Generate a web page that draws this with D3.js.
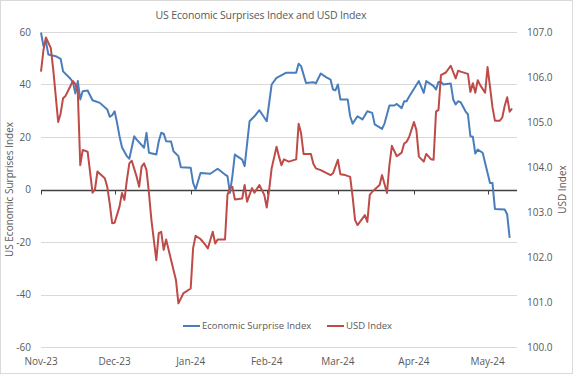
<!DOCTYPE html>
<html>
<head>
<meta charset="utf-8">
<script src="https://cdn.jsdelivr.net/npm/d3@7"></script>
<style>
  body { margin: 0; background: #fff; }
  text { font-family: "Open Sans", sans-serif; }
</style>
</head>
<body>
<div id="chart"></div>
<script>
// values
const esiPoints = [
  ["2023-11-01",59.8],["2023-11-02",54.6],["2023-11-03",56.5],["2023-11-04",51.4],["2023-11-07",50.8],
  ["2023-11-09",49.8],["2023-11-10",45.0],["2023-11-13",42.2],["2023-11-14",40.9],["2023-11-15",36.6],
  ["2023-11-16",41.3],["2023-11-17",34.3],["2023-11-18",37.4],["2023-11-20",37.7],["2023-11-22",34.0],
  ["2023-11-25",33.0],["2023-11-28",30.5],["2023-11-29",27.7],["2023-11-30",28.3],["2023-12-01",29.8],
  ["2023-12-02",25.4],["2023-12-03",20.3],["2023-12-04",16.1],["2023-12-06",12.7],["2023-12-07",11.7],
  ["2023-12-09",20.3],["2023-12-10",19.0],["2023-12-13",15.9],["2023-12-14",21.6],["2023-12-15",14.0],
  ["2023-12-18",13.3],["2023-12-19",18.4],["2023-12-20",21.6],["2023-12-21",21.3],["2023-12-22",18.4],
  ["2023-12-24",18.3],["2023-12-25",14.6],["2023-12-27",12.7],["2023-12-28",8.5],["2024-01-01",8.3],
  ["2024-01-02",2.5],["2024-01-03",0.0],["2024-01-05",6.3],["2024-01-09",6.0],["2024-01-12",7.9],
  ["2024-01-15",5.7],["2024-01-16",5.1],["2024-01-17",-1.3],["2024-01-18",5.1],["2024-01-19",13.3],
  ["2024-01-22",11.4],["2024-01-23",8.9],["2024-01-25",26.0],["2024-01-27",27.9],["2024-01-29",30.2],
  ["2024-02-01",26.0],["2024-02-03",40.0],["2024-02-05",42.5],["2024-02-09",44.5],["2024-02-13",44.5],
  ["2024-02-14",47.9],["2024-02-15",47.0],["2024-02-17",40.6],["2024-02-20",40.9],["2024-02-21",40.4],
  ["2024-02-23",44.2],["2024-02-25",42.9],["2024-02-27",41.9],["2024-02-28",38.1],["2024-02-29",37.8],
  ["2024-03-01",40.0],["2024-03-02",34.3],["2024-03-05",34.3],["2024-03-06",27.9],["2024-03-07",25.1],
  ["2024-03-09",27.9],["2024-03-11",26.7],["2024-03-13",29.8],["2024-03-15",29.2],["2024-03-16",24.8],
  ["2024-03-19",23.1],["2024-03-20",25.1],["2024-03-22",32.0],["2024-03-24",32.0],["2024-03-25",32.6],
  ["2024-03-27",31.0],["2024-03-28",33.6],["2024-03-29",33.6],["2024-03-30",35.3],["2024-04-03",41.3],
  ["2024-04-05",36.8],["2024-04-06",41.3],["2024-04-09",39.4],["2024-04-10",38.1],["2024-04-11",41.0],
  ["2024-04-12",41.0],["2024-04-13",40.0],["2024-04-16",40.4],["2024-04-17",34.3],["2024-04-18",32.4],
  ["2024-04-19",33.6],["2024-04-20",33.3],["2024-04-22",29.8],["2024-04-23",28.6],["2024-04-24",20.3],
  ["2024-04-25",20.1],["2024-04-26",13.7],["2024-04-27",15.2],["2024-04-29",14.0],["2024-05-02",2.5],
  ["2024-05-03",2.5],["2024-05-04",-7.4],["2024-05-08",-7.6],["2024-05-09",-9.5],["2024-05-10",-18.4]
]

const usdPoints = [
  ["2023-11-01",106.12],["2023-11-02",106.6],["2023-11-03",106.88],["2023-11-05",106.64],["2023-11-06",106.16],
  ["2023-11-08",105.0],["2023-11-09",105.19],["2023-11-10",105.53],["2023-11-11",105.58],["2023-11-14",105.91],
  ["2023-11-15",105.84],["2023-11-16",105.67],["2023-11-17",104.04],["2023-11-18",104.38],["2023-11-20",104.34],
  ["2023-11-22",103.43],["2023-11-23",103.5],["2023-11-24",103.9],["2023-11-27",103.75],["2023-11-28",103.56],
  ["2023-11-29",103.19],["2023-11-30",102.75],["2023-12-01",102.76],["2023-12-03",103.12],["2023-12-04",103.42],
  ["2023-12-05",103.27],["2023-12-06",103.71],["2023-12-07",104.08],["2023-12-08",104.14],["2023-12-10",103.78],
  ["2023-12-11",103.56],["2023-12-12",104.01],["2023-12-13",104.08],["2023-12-14",103.93],["2023-12-15",103.42],
  ["2023-12-16",102.82],["2023-12-18",101.93],["2023-12-19",102.53],["2023-12-20",102.56],["2023-12-21",102.16],
  ["2023-12-22",102.39],["2023-12-25",101.71],["2023-12-26",101.49],["2023-12-27",100.97],["2023-12-29",101.19],
  ["2024-01-01",101.3],["2024-01-02",102.2],["2024-01-03",102.47],["2024-01-05",102.4],["2024-01-07",102.27],
  ["2024-01-08",102.19],["2024-01-10",102.56],["2024-01-11",102.3],["2024-01-12",102.39],["2024-01-15",102.39],
  ["2024-01-16",103.38],["2024-01-17",103.53],["2024-01-18",103.56],["2024-01-19",103.28],["2024-01-22",103.3],
  ["2024-01-23",103.6],["2024-01-24",103.23],["2024-01-26",103.53],["2024-01-27",103.43],["2024-01-29",103.6],
  ["2024-01-31",103.38],["2024-02-01",103.1],["2024-02-02",103.5],["2024-02-03",103.97],["2024-02-05",104.45],
  ["2024-02-06",104.23],["2024-02-07",104.04],["2024-02-08",104.17],["2024-02-10",104.12],["2024-02-13",104.17],
  ["2024-02-14",104.96],["2024-02-15",104.75],["2024-02-16",104.29],["2024-02-19",104.29],["2024-02-20",104.07],
  ["2024-02-21",103.97],["2024-02-23",103.93],["2024-02-27",103.82],["2024-02-28",103.86],["2024-03-01",104.16],
  ["2024-03-02",103.84],["2024-03-04",103.82],["2024-03-06",103.78],["2024-03-07",103.34],["2024-03-08",102.82],
  ["2024-03-09",102.71],["2024-03-12",102.93],["2024-03-13",102.78],["2024-03-14",103.38],["2024-03-15",103.45],
  ["2024-03-18",103.6],["2024-03-19",103.82],["2024-03-21",103.42],["2024-03-22",104.04],["2024-03-23",104.47],
  ["2024-03-25",104.24],["2024-03-27",104.32],["2024-03-28",104.52],["2024-03-29",104.56],["2024-03-30",104.66],
  ["2024-04-01",105.0],["2024-04-02",104.82],["2024-04-03",104.23],["2024-04-05",104.12],["2024-04-06",104.29],
  ["2024-04-08",104.17],["2024-04-09",104.16],["2024-04-10",105.23],["2024-04-11",105.27],["2024-04-12",106.04],
  ["2024-04-14",106.1],["2024-04-16",106.25],["2024-04-18",105.97],["2024-04-19",106.14],["2024-04-20",106.12],
  ["2024-04-23",106.07],["2024-04-24",105.67],["2024-04-25",105.86],["2024-04-26",105.65],["2024-04-27",105.93],
  ["2024-04-28",105.82],["2024-04-30",105.65],["2024-05-01",106.22],["2024-05-02",105.78],["2024-05-03",105.33],
  ["2024-05-04",105.03],["2024-05-06",105.03],["2024-05-07",105.1],["2024-05-08",105.36],["2024-05-09",105.55],
  ["2024-05-10",105.23],["2024-05-11",105.3]
]

const leftTicks = [60, 40, 20, 0, -20, -40, -60]
const rightTicks = [107, 106, 105, 104, 103, 102, 101, 100]
const monthTicks = ["2023-11-01","2023-12-01","2024-01-01","2024-02-01","2024-03-01","2024-04-01","2024-05-01"]
const seriesNames = ["Economic Surprise Index", "USD Index"]

const parseDate = d3.timeParse("%Y-%m-%d")
const fmtMonth = d3.timeFormat("%b-%y")

let dimensions = {
  width: 573,
  height: 374,
  margin: { top: 32, right: 56, bottom: 27, left: 41 },
}
dimensions.boundedWidth = dimensions.width - dimensions.margin.left - dimensions.margin.right
dimensions.boundedHeight = dimensions.height - dimensions.margin.top - dimensions.margin.bottom

const blue = "#4a7ebb"
const red = "#be4b48"
const labelColor = "#595959"

const svg = d3.select("#chart")
  .append("svg")
    .attr("width", dimensions.width)
    .attr("height", dimensions.height)

svg.append("rect")
  .attr("x", 0.5).attr("y", 0.5)
  .attr("width", dimensions.width - 1).attr("height", dimensions.height - 1)
  .attr("fill", "#fff").attr("stroke", "#d9d9d9")

const bounds = svg.append("g")
  .attr("transform", `translate(${dimensions.margin.left},${dimensions.margin.top})`)

const xScale = d3.scaleTime()
  .domain([parseDate("2023-11-01"), parseDate("2024-05-13")])
  .range([0, dimensions.boundedWidth])

const yLeft = d3.scaleLinear()
  .domain([-60, 60])
  .range([dimensions.boundedHeight, 0])

const yRight = d3.scaleLinear()
  .domain([100, 107])
  .range([dimensions.boundedHeight, 0])

// gridlines
bounds.append("g")
  .selectAll("line")
  .data(leftTicks.filter(d => d !== 0))
  .join("line")
    .attr("x1", 0).attr("x2", dimensions.boundedWidth)
    .attr("y1", d => Math.round(yLeft(d)) + 0.5)
    .attr("y2", d => Math.round(yLeft(d)) + 0.5)
    .attr("stroke", "#d9d9d9")
    .attr("stroke-width", 1)

// left axis labels
bounds.append("g")
  .selectAll("text")
  .data(leftTicks)
  .join("text")
    .attr("x", -10)
    .attr("y", d => yLeft(d))
    .attr("dy", "0.35em")
    .attr("text-anchor", "end")
    .style("font-size", "10px")
    .attr("fill", labelColor)
    .text(d => d)

// right axis labels
bounds.append("g")
  .selectAll("text")
  .data(rightTicks)
  .join("text")
    .attr("x", dimensions.boundedWidth + 10)
    .attr("y", d => yRight(d))
    .attr("dy", "0.35em")
    .attr("text-anchor", "start")
    .style("font-size", "10px")
    .attr("fill", labelColor)
    .text(d => d.toFixed(1))

// month labels at the bottom
bounds.append("g")
  .selectAll("text")
  .data(monthTicks)
  .join("text")
    .attr("x", d => xScale(parseDate(d)))
    .attr("y", dimensions.boundedHeight + 18)
    .attr("text-anchor", "middle")
    .style("font-size", "10px")
    .attr("fill", labelColor)
    .text(d => fmtMonth(parseDate(d)))

// zero axis line with ticks
const zeroY = Math.round(yLeft(0)) + 0.5
bounds.append("line")
  .attr("x1", 0).attr("x2", dimensions.boundedWidth)
  .attr("y1", zeroY).attr("y2", zeroY)
  .attr("stroke", "#404040").attr("stroke-width", 1.5)

bounds.append("g")
  .selectAll("line")
  .data(monthTicks)
  .join("line")
    .attr("x1", d => Math.round(xScale(parseDate(d))) + 0.5)
    .attr("x2", d => Math.round(xScale(parseDate(d))) + 0.5)
    .attr("y1", zeroY).attr("y2", zeroY + 4)
    .attr("stroke", "#404040")

// lines
const esiLine = d3.line()
  .x(d => xScale(parseDate(d[0])))
  .y(d => yLeft(d[1]))

const usdLine = d3.line()
  .x(d => xScale(parseDate(d[0])))
  .y(d => yRight(d[1]))

bounds.append("path")
  .datum(esiPoints)
  .attr("d", esiLine)
  .attr("fill", "none")
  .attr("stroke", blue)
  .attr("stroke-width", 2)
  .attr("stroke-linejoin", "round")

bounds.append("path")
  .datum(usdPoints)
  .attr("d", usdLine)
  .attr("fill", "none")
  .attr("stroke", red)
  .attr("stroke-width", 2)
  .attr("stroke-linejoin", "round")

// title
svg.append("text")
  .attr("x", 261)
  .attr("y", 19)
  .attr("text-anchor", "middle")
  .style("font-size", "10.5px")
  .style("letter-spacing", "-0.15px")
  .attr("fill", labelColor)
  .text("US Economic Surprises Index and USD Index")

// axis titles
svg.append("text")
  .attr("transform", `translate(13,${dimensions.margin.top + dimensions.boundedHeight / 2}) rotate(-90)`)
  .attr("text-anchor", "middle")
  .style("font-size", "10px")
  .attr("fill", labelColor)
  .text("US Economic Surprises Index")

svg.append("text")
  .attr("transform", `translate(566,${dimensions.margin.top + dimensions.boundedHeight / 2}) rotate(-90)`)
  .attr("text-anchor", "middle")
  .style("font-size", "10px")
  .attr("fill", labelColor)
  .text("USD Index")

// legend
const legendGroup = svg.append("g")
const legendItems = [
  { name: seriesNames[0], color: blue, x: 183 },
  { name: seriesNames[1], color: red, x: 327 },
]
legendItems.forEach(item => {
  legendGroup.append("line")
    .attr("x1", item.x).attr("x2", item.x + 17)
    .attr("y1", 326).attr("y2", 326)
    .attr("stroke", item.color).attr("stroke-width", 2)
  legendGroup.append("text")
    .attr("x", item.x + 19).attr("y", 326)
    .attr("dy", "0.35em")
    .style("font-size", "9.5px")
    .attr("fill", labelColor)
    .text(item.name)
})
</script>
</body>
</html>
